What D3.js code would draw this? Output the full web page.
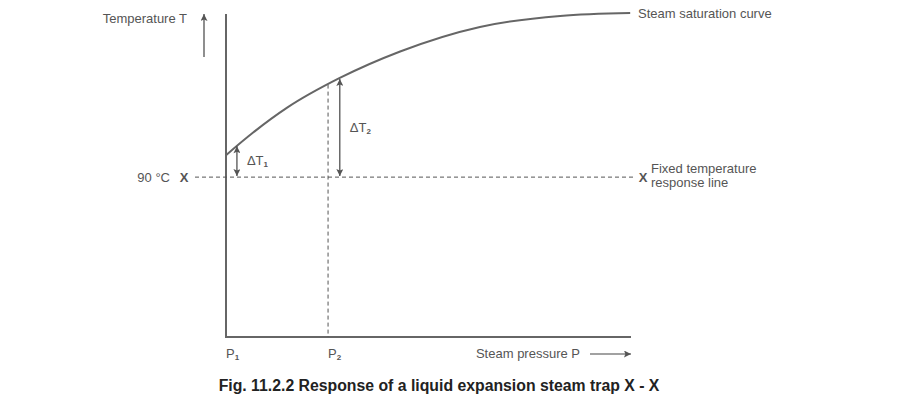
<!DOCTYPE html>
<html>
<head>
<meta charset="utf-8">
<script src="https://cdn.jsdelivr.net/npm/d3@7"></script>
<style>
  body { margin: 0; background: #fff; }
  text { font-family: "Liberation Sans", Arial, sans-serif; fill: #555; }
</style>
</head>
<body>
<svg width="900" height="409"></svg>
<script>
// saturation curve, pressure vs temperature (arbitrary units 0-100)
var curveP = [0, 6.7, 15.1, 28.1, 43.0, 62.7, 82.5, 99.8];
var curveT = [56.3, 63.3, 71.0, 80.2, 88.4, 96.0, 99.4, 100.3];

var fixedT = 49.5;          // 90 °C response line
var pressures = [0, 25.2];  // P1, P2
var pressureLabels = ["1", "2"];
var deltaP = [2.7, 28.1];   // where the delta arrows sit
var deltaTop = [59.4, 80.2];
var deltaLabels = ["1", "2"];

var svg = d3.select("svg");

var x = d3.scaleLinear().domain([0, 100]).range([226, 631]);
var y = d3.scaleLinear().domain([0, 100]).range([337, 14]);

var grey = "#666";

var defs = svg.append("defs");
defs.append("marker")
    .attr("id", "head")
    .attr("viewBox", "0 0 10 10")
    .attr("refX", 10).attr("refY", 5)
    .attr("markerWidth", 10).attr("markerHeight", 7)
    .attr("markerUnits", "userSpaceOnUse")
    .attr("orient", "auto-start-reverse")
  .append("path")
    .attr("d", "M0,0 L10,5 L0,10 L2,5 Z")
    .attr("fill", "#555");

// axes (no ticks, just lines)
svg.append("path")
    .attr("d", "M" + x(0) + "," + y(100) + "V" + y(0) + "H" + x(100))
    .attr("fill", "none")
    .attr("stroke", grey)
    .attr("stroke-width", 2);

// dashed lines
svg.append("line")
    .attr("x1", 195).attr("x2", 636)
    .attr("y1", y(fixedT)).attr("y2", y(fixedT))
    .attr("stroke", "#555").attr("stroke-width", 1)
    .attr("stroke-dasharray", "4,3");

var curveData = curveP.map(function(p, i) { return {p: p, t: curveT[i]}; });
var line = d3.line()
    .x(function(d) { return x(d.p); })
    .y(function(d) { return y(d.t); })
    .curve(d3.curveMonotoneX);

var interp = d3.scaleLinear().domain(curveP).range(curveT);

svg.append("line")
    .attr("x1", x(pressures[1])).attr("x2", x(pressures[1]))
    .attr("y1", y(interp(pressures[1]))).attr("y2", y(0))
    .attr("stroke", "#555").attr("stroke-width", 1)
    .attr("stroke-dasharray", "4,3");

svg.append("path")
    .datum(curveData)
    .attr("d", line)
    .attr("fill", "none")
    .attr("stroke", grey)
    .attr("stroke-width", 2);

// delta arrows
deltaP.forEach(function(p, i) {
  svg.append("line")
      .attr("x1", x(p)).attr("x2", x(p))
      .attr("y1", y(fixedT) - 1).attr("y2", y(deltaTop[i]) + 1)
      .attr("stroke", "#444").attr("stroke-width", 1.2)
      .attr("marker-start", "url(#head)")
      .attr("marker-end", "url(#head)");
  var lbl = svg.append("text")
      .attr("x", x(p) + 10)
      .attr("y", (y(fixedT) + y(deltaTop[i])) / 2 + 4)
      .attr("font-size", 13);
  lbl.append("tspan").text("\u0394T");
  lbl.append("tspan").attr("font-size", 8).attr("dy", 2).attr("font-weight", "bold").text(deltaLabels[i]);
});

// temperature label & arrow
svg.append("text")
    .attr("x", 187).attr("y", 23)
    .attr("text-anchor", "end")
    .attr("font-size", 13)
    .text("Temperature T");
svg.append("line")
    .attr("x1", 204).attr("x2", 204)
    .attr("y1", 57).attr("y2", 14)
    .attr("stroke", "#444").attr("stroke-width", 1.2)
    .attr("marker-end", "url(#head)");

// pressure label & arrow
svg.append("text")
    .attr("x", 580).attr("y", 358)
    .attr("text-anchor", "end")
    .attr("font-size", 13)
    .text("Steam pressure P");
svg.append("line")
    .attr("x1", 590).attr("x2", x(100))
    .attr("y1", 354).attr("y2", 354)
    .attr("stroke", "#444").attr("stroke-width", 1.2)
    .attr("marker-end", "url(#head)");

// P1, P2
pressures.forEach(function(p, i) {
  var t = svg.append("text")
      .attr("x", x(p)).attr("y", 358)
      .attr("font-size", 13);
  t.append("tspan").text("P");
  t.append("tspan").attr("font-size", 8).attr("dy", 2).attr("font-weight", "bold").text(pressureLabels[i]);
});

// 90 °C and X markers
svg.append("text")
    .attr("x", 170).attr("y", y(fixedT) + 5)
    .attr("text-anchor", "end")
    .attr("font-size", 13)
    .text("90 \u00b0C");
svg.append("text")
    .attr("x", 184).attr("y", y(fixedT) + 5)
    .attr("text-anchor", "middle")
    .attr("font-size", 13).attr("font-weight", "bold")
    .text("X");
svg.append("text")
    .attr("x", 643).attr("y", y(fixedT) + 5)
    .attr("text-anchor", "middle")
    .attr("font-size", 13).attr("font-weight", "bold")
    .text("X");
svg.append("text")
    .attr("x", 651).attr("y", y(fixedT) - 4)
    .attr("font-size", 13)
    .text("Fixed temperature");
svg.append("text")
    .attr("x", 651).attr("y", y(fixedT) + 10)
    .attr("font-size", 13)
    .text("response line");

// curve label
svg.append("text")
    .attr("x", 638).attr("y", 18)
    .attr("font-size", 13)
    .text("Steam saturation curve");

// caption
svg.append("text")
    .attr("x", 439).attr("y", 391)
    .attr("text-anchor", "middle")
    .attr("font-size", 15.8).attr("font-weight", "bold")
    .style("fill", "#222")
    .text("Fig. 11.2.2 Response of a liquid expansion steam trap X - X");
</script>
</body>
</html>
